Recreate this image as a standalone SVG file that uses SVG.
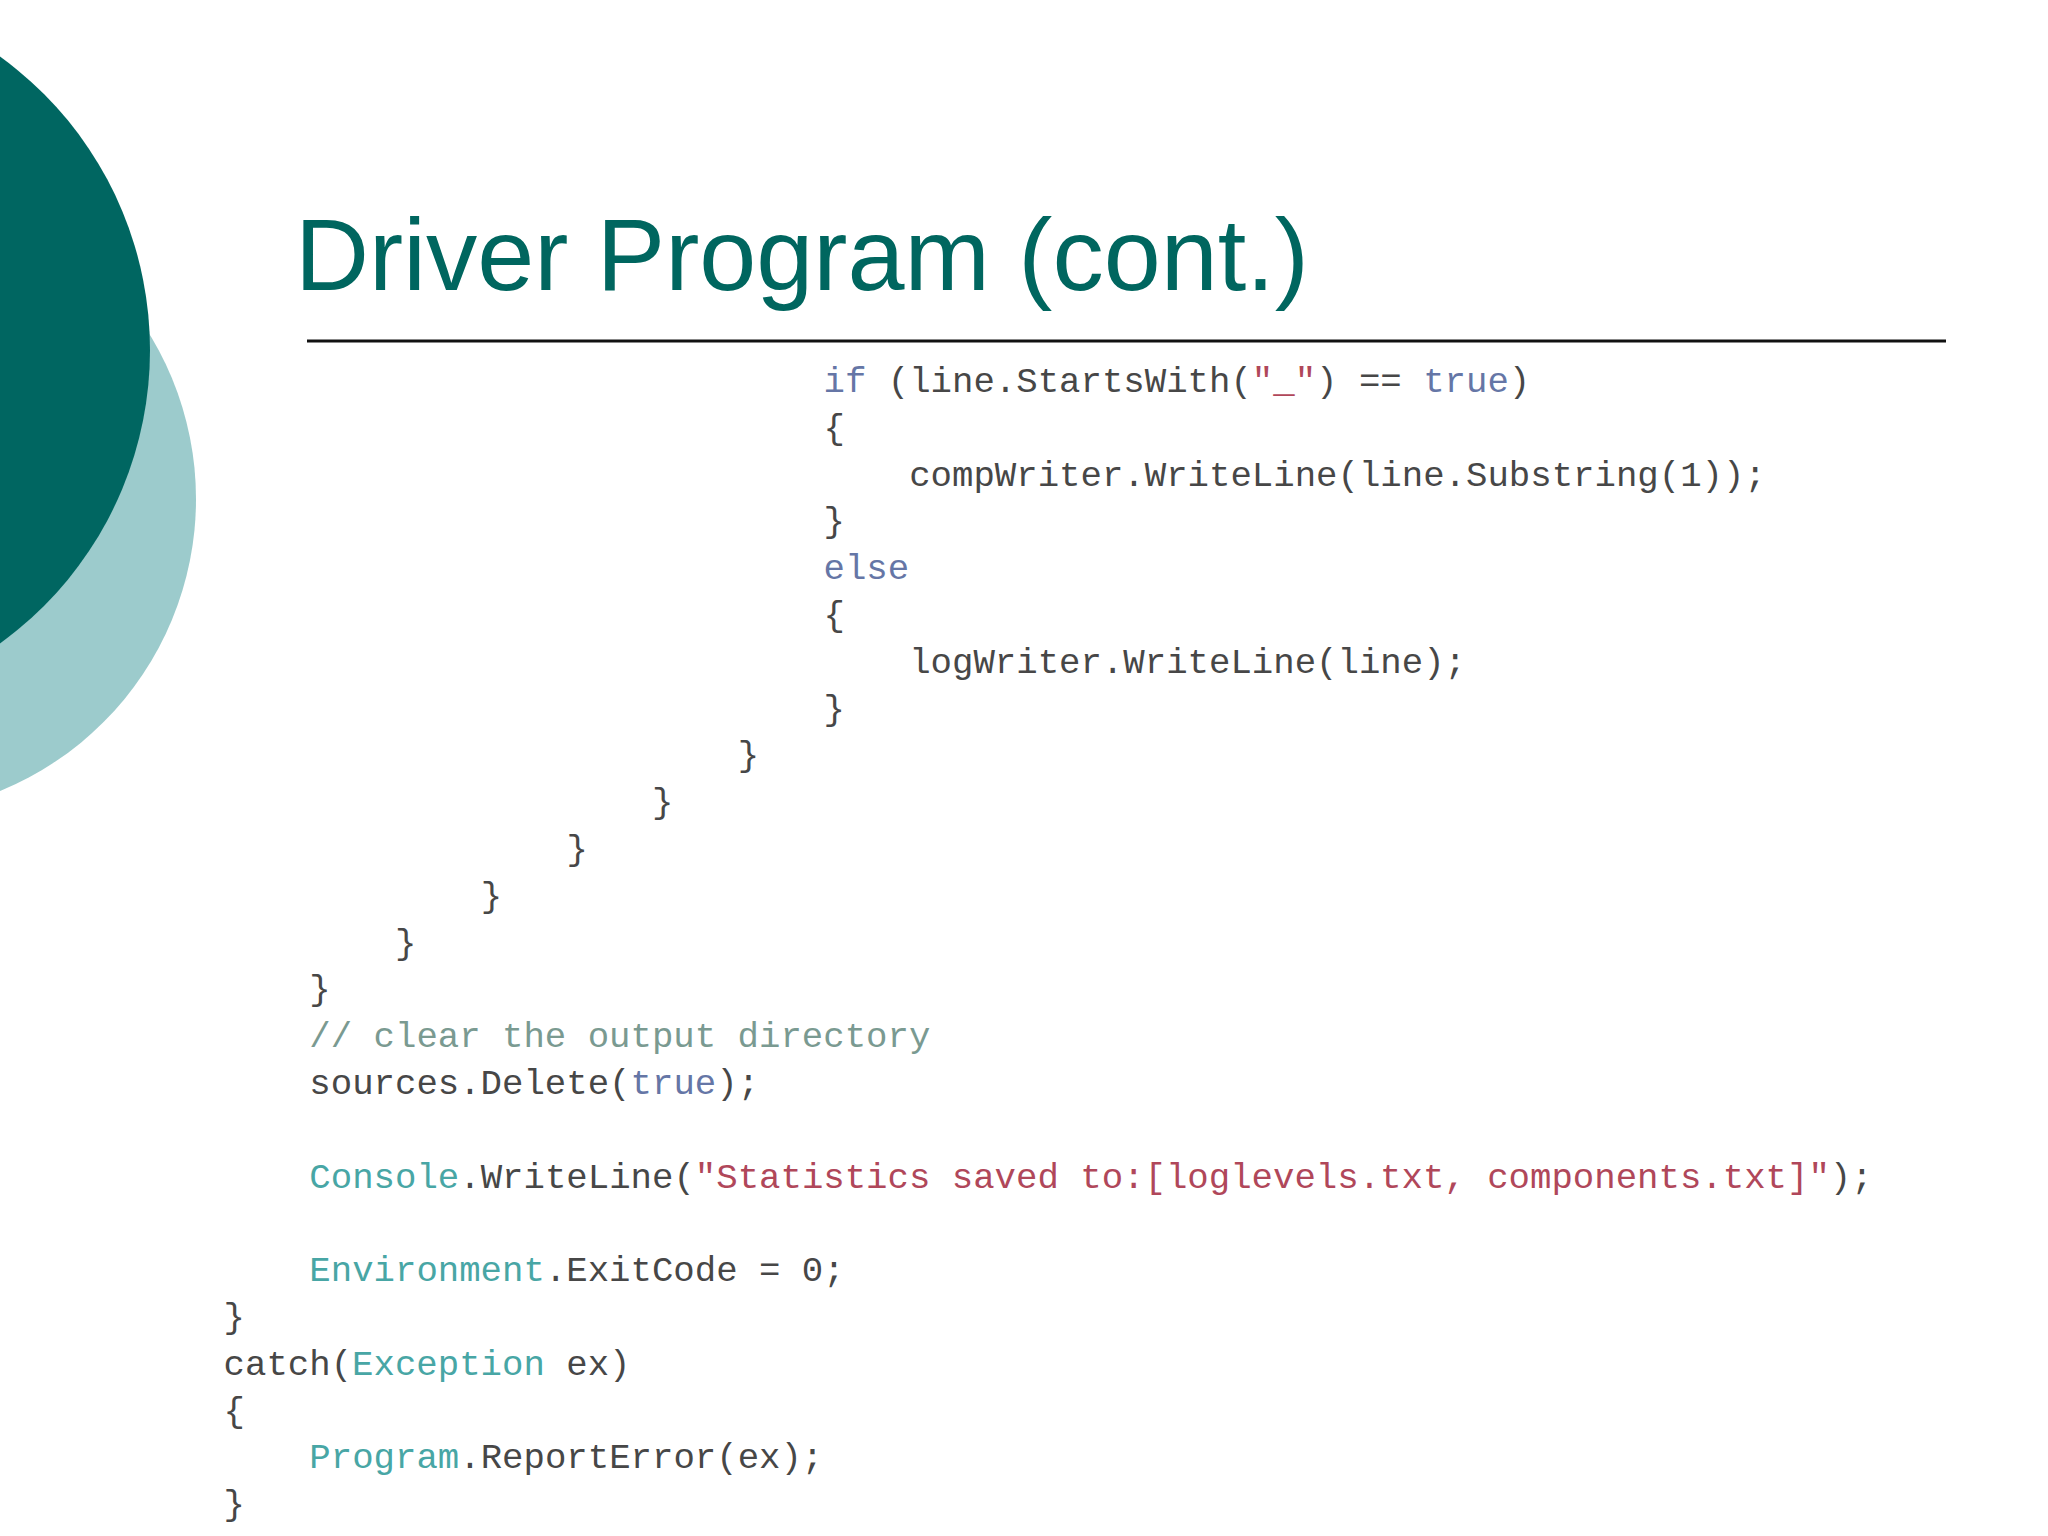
<svg xmlns="http://www.w3.org/2000/svg" width="2048" height="1536" viewBox="0 0 2048 1536">
<style>
.code{font-family:"Liberation Mono","Courier New",monospace;font-size:35.7px;fill:#474747}
.kw{fill:#6576a6}
.ty{fill:#48a6a5}
.st{fill:#b0475a}
.cm{fill:#7a9a91}
.title{font-family:"Liberation Sans",Arial,sans-serif;font-size:102.5px;fill:#00665f}
</style>
<rect width="2048" height="1536" fill="#ffffff"/>
<g id="decor">
<circle cx="-119.5" cy="499" r="315.5" fill="#9ccbcc"/>
<circle cx="-212" cy="350" r="362" fill="#006661"/>
</g>
<g id="title">
<text class="title" x="295" y="290">Driver Program (cont.)</text>
<line x1="307" y1="341" x2="1946" y2="341" stroke="#111" stroke-width="3"/>
</g>
<g id="code">
<text class="code" x="823.5" y="392"><tspan class="kw">if</tspan> (line.StartsWith(<tspan class="st">"_"</tspan>) == <tspan class="kw">true</tspan>)</text>
<text class="code" x="823.5" y="438.8">{</text>
<text class="code" x="909.2" y="485.6">compWriter.WriteLine(line.Substring(1));</text>
<text class="code" x="823.5" y="532.4">}</text>
<text class="code kw" x="823.5" y="579.2">else</text>
<text class="code" x="823.5" y="626">{</text>
<text class="code" x="909.2" y="672.8">logWriter.WriteLine(line);</text>
<text class="code" x="823.5" y="719.6">}</text>
<text class="code" x="737.8" y="766.4">}</text>
<text class="code" x="652.1" y="813.2">}</text>
<text class="code" x="566.4" y="860">}</text>
<text class="code" x="480.7" y="906.8">}</text>
<text class="code" x="395" y="953.6">}</text>
<text class="code" x="309.3" y="1000.4">}</text>
<text class="code cm" x="309.3" y="1047.2">// clear the output directory</text>
<text class="code" x="309.3" y="1094">sources.Delete(<tspan class="kw">true</tspan>);</text>
<text class="code" x="309.3" y="1187.6"><tspan class="ty">Console</tspan>.WriteLine(<tspan class="st">"Statistics saved to:[loglevels.txt, components.txt]"</tspan>);</text>
<text class="code" x="309.3" y="1281.2"><tspan class="ty">Environment</tspan>.ExitCode = 0;</text>
<text class="code" x="223.6" y="1328">}</text>
<text class="code" x="223.6" y="1374.8">catch(<tspan class="ty">Exception</tspan> ex)</text>
<text class="code" x="223.6" y="1421.6">{</text>
<text class="code" x="309.3" y="1468.4"><tspan class="ty">Program</tspan>.ReportError(ex);</text>
<text class="code" x="223.6" y="1515.2">}</text>
</g>
</svg>
